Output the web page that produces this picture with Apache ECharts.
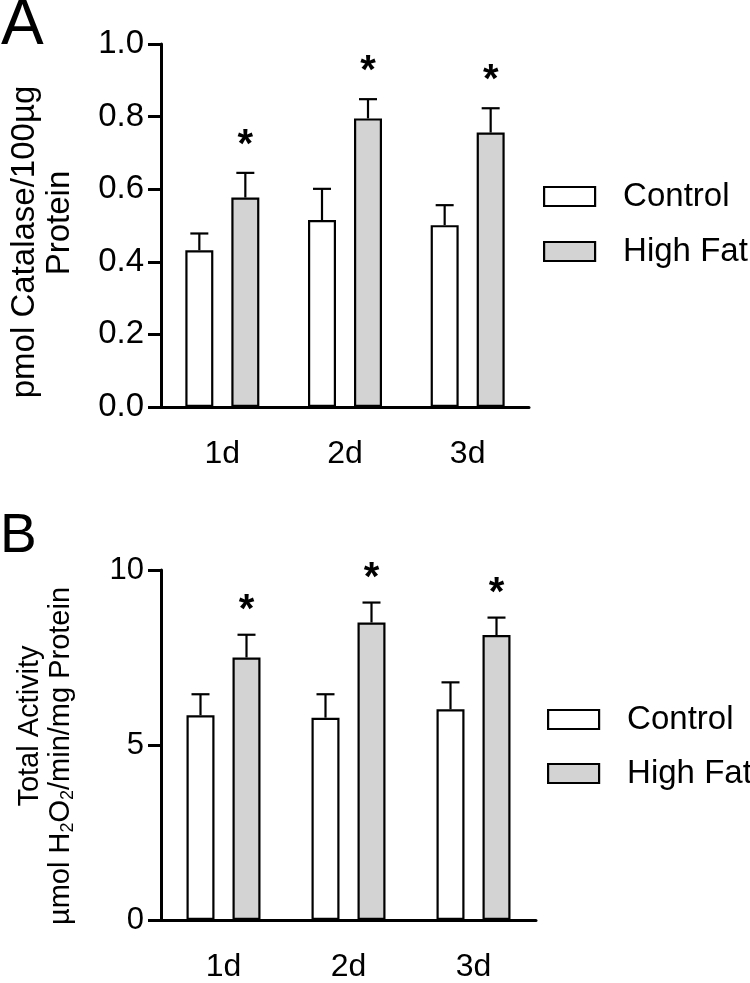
<!DOCTYPE html>
<html>
<head>
<meta charset="utf-8">
<script src="https://cdn.jsdelivr.net/npm/echarts@6/dist/echarts.min.js"></script>
<style>
html,body{margin:0;padding:0;background:#fff;}
#chart{width:750px;height:983px;}
</style>
</head>
<body>
<div id="chart"></div>
<script>
// ---- data ----
const categories = ['1d', '2d', '3d'];
const seriesNames = ['Control', 'High Fat'];
// Panel A: pmol Catalase / 100 µg protein (mean, SEM)
const aControl = [0.432, 0.515, 0.501];
const aControlSem = [0.046, 0.086, 0.055];
const aHighFat = [0.577, 0.795, 0.756];
const aHighFatSem = [0.068, 0.053, 0.067];
const aSig = ['*', '*', '*'];
const aTicks = [0, 0.2, 0.4, 0.6, 0.8, 1.0];
// Panel B: total activity µmol H2O2/min/mg protein (mean, SEM)
const bControl = [5.85, 5.78, 6.02];
const bControlSem = [0.6, 0.67, 0.77];
const bHighFat = [7.5, 8.5, 8.14];
const bHighFatSem = [0.65, 0.57, 0.5];
const bSig = ['*', '*', '*'];
const bTicks = [0, 5, 10];

// ---- style ----
const FONT = '"Liberation Sans", Arial, sans-serif';
const BAR_W = 28;
const BAR_GAP_PX = 18;
const OFFSET = (BAR_W + BAR_GAP_PX) / 2;
const HF_COLOR = '#d3d3d3';

function errData(mean, sem, sig) {
  return mean.map((m, i) => [i, m, m + sem[i], sig ? sig[i] : '']);
}

function errSeries(name, xi, data, dx, starGap) {
  return {
    type: 'custom', name: name, xAxisIndex: xi, yAxisIndex: xi, z: 5,
    data: data,
    encode: { x: 0, y: [1, 2] },
    renderItem: function (params, api) {
      const base = api.coord([api.value(0), api.value(1)]);
      const top = api.coord([api.value(0), api.value(2)]);
      const cx = base[0] + dx;
      const children = [
        { type: 'line', shape: { x1: cx, y1: base[1], x2: cx, y2: top[1] }, style: { stroke: '#000', lineWidth: 2.2 } },
        { type: 'line', shape: { x1: cx - 9, y1: top[1], x2: cx + 9, y2: top[1] }, style: { stroke: '#000', lineWidth: 2.2 } }
      ];
      const s = api.value(3);
      if (s) {
        children.push({ type: 'text', style: { text: s, x: cx, y: top[1] - starGap, textAlign: 'center', textVerticalAlign: 'middle', font: 'bold 40px ' + FONT, fill: '#000' } });
      }
      return { type: 'group', children: children };
    }
  };
}

function barSeries(name, xi, data, color) {
  return {
    type: 'bar', name: name, xAxisIndex: xi, yAxisIndex: xi,
    data: data, barWidth: BAR_W, barGap: (BAR_GAP_PX / BAR_W * 100) + '%',
    itemStyle: { color: color, borderColor: '#000', borderWidth: 2.2 },
    emphasis: { disabled: true }
  };
}

function xAxisCfg(gi) {
  return {
    type: 'category', gridIndex: gi, data: categories,
    axisLine: { lineStyle: { color: '#000', width: 3 } },
    axisTick: { alignWithLabel: true, length: 13, lineStyle: { color: '#000', width: 3 } },
    axisLabel: { color: '#000', fontSize: 32, fontFamily: FONT, margin: 31 }
  };
}

function yAxisCfg(gi, ticks, dec, fs) {
  return {
    type: 'value', gridIndex: gi, min: ticks[0], max: ticks[ticks.length - 1],
    interval: ticks[1] - ticks[0],
    axisLine: { show: true, lineStyle: { color: '#000', width: 3 } },
    axisTick: { show: true, length: 13, lineStyle: { color: '#000', width: 3 } },
    splitLine: { show: false },
    axisLabel: { color: '#000', fontSize: fs, fontFamily: FONT, margin: 17,
      formatter: v => dec ? v.toFixed(dec) : String(v) }
  };
}

function legendCfg(left, top, gap) {
  return {
    data: seriesNames, orient: 'vertical', left: left, top: top, padding: 0,
    itemWidth: 51, itemHeight: 19, itemGap: gap, selectedMode: false,
    icon: 'rect',
    itemStyle: { borderColor: '#000', borderWidth: 2.2 },
    textStyle: { color: '#000', fontSize: 33, fontFamily: FONT, padding: [0, 0, 0, 23] }
  };
}

const chart = echarts.init(document.getElementById('chart'), null, { renderer: 'canvas' });
chart.setOption({
  animation: false,
  backgroundColor: '#fff',
  grid: [
    { left: 161, top: 44, width: 368, height: 363 },
    { left: 161, top: 570, width: 375, height: 355 }
  ],
  xAxis: [xAxisCfg(0), xAxisCfg(1)],
  yAxis: [yAxisCfg(0, aTicks, 1, 33), yAxisCfg(1, bTicks, 0, 31)],
  legend: [legendCfg(543, 180, 22), legendCfg(547, 703, 21)],
  graphic: [
    { type: 'text', x: 1, y: -6, style: { text: 'A', font: '64px ' + FONT, fill: '#000' } },
    { type: 'text', x: 0, y: 509, style: { text: 'B', font: '55px ' + FONT, fill: '#000' } },
    { type: 'text', x: 25, y: 242, rotation: Math.PI / 2,
      style: { text: 'pmol Catalase/100µg', font: '33px ' + FONT, fill: '#000', textAlign: 'center', textVerticalAlign: 'middle' } },
    { type: 'text', x: 60, y: 223, rotation: Math.PI / 2,
      style: { text: 'Protein', font: '33px ' + FONT, fill: '#000', textAlign: 'center', textVerticalAlign: 'middle' } },
    { type: 'text', x: 30, y: 726, rotation: Math.PI / 2,
      style: { text: 'Total Activity', font: '29px ' + FONT, fill: '#000', textAlign: 'center', textVerticalAlign: 'middle' } },
    { type: 'text', x: 61, y: 756, rotation: Math.PI / 2,
      style: { text: '{n|µmol H}{s|2}{n|O}{s|2}{n|/min/mg Protein}', textAlign: 'center', textVerticalAlign: 'middle',
        rich: {
          n: { fontSize: 29, fontFamily: FONT, color: '#000', lineHeight: 36, verticalAlign: 'middle' },
          s: { fontSize: 18, fontFamily: FONT, color: '#000', lineHeight: 36, verticalAlign: 'bottom', padding: [0, 0, 2, 0] }
        } } }
  ],
  series: [
    barSeries('Control', 0, aControl, '#ffffff'),
    barSeries('High Fat', 0, aHighFat, HF_COLOR),
    errSeries('errAC', 0, errData(aControl, aControlSem), -OFFSET, 27),
    errSeries('errAH', 0, errData(aHighFat, aHighFatSem, aSig), OFFSET, 27),
    barSeries('Control', 1, bControl, '#ffffff'),
    barSeries('High Fat', 1, bHighFat, HF_COLOR),
    errSeries('errBC', 1, errData(bControl, bControlSem), -OFFSET, 24),
    errSeries('errBH', 1, errData(bHighFat, bHighFatSem, bSig), OFFSET, 24)
  ]
});
</script>
</body>
</html>
